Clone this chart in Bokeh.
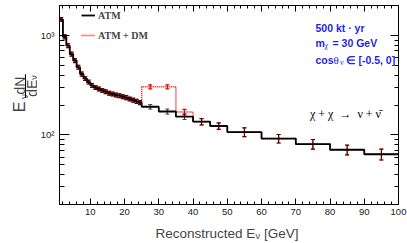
import math
from bokeh.plotting import figure
from bokeh.layouts import row, column
from bokeh.models import (ColumnDataSource, Whisker, TeeHead, Label, Legend, LegendItem,
                          LinearAxis, SingleIntervalTicker, FixedTicker,
                          CustomJSTickFormatter, Range1d, BoxAnnotation)
from bokeh.embed import file_html
from bokeh.resources import INLINE

# ---------------- data ----------------
bin_edges = [1, 2, 3, 4, 5, 6, 7, 8, 9, 10, 11, 12, 13, 14, 15, 16, 17, 18, 19, 20,
             21, 22, 23, 24, 25, 30, 35, 40, 45, 50, 60, 70, 80, 90, 100]
atm = [1450, 970, 790, 650, 560, 480, 410, 370, 340, 315, 300, 290, 280, 272, 263,
       258, 252, 248, 242, 237, 230, 224, 218, 212,
       192, 172, 153, 136, 123, 107, 92, 81, 71, 64]
atm_err = [60, 45, 36, 30, 26, 22, 19, 17, 15, 14, 13, 13, 12, 12, 12,
           11, 11, 11, 11, 11, 10, 10, 10, 10,
           10, 10, 10, 10, 9, 11, 9, 9, 8, 8]
atm_dm = [1450, 970, 790, 650, 560, 480, 410, 370, 340, 315, 300, 290, 280, 272, 263,
          258, 252, 248, 242, 237, 230, 224, 218, 212,
          305, 305, 170, 136, 123, 107, 92, 81, 71, 64]
atm_dm_err = [60, 45, 36, 30, 26, 22, 19, 17, 15, 14, 13, 13, 12, 12, 12,
              11, 11, 11, 11, 11, 10, 10, 10, 10,
              14, 14, 11, 10, 9, 11, 9, 9, 8, 8]
series_labels = ["ATM", "ATM + DM"]
y_major = [100, 1000]
y_minor = [20, 30, 40, 50, 60, 70, 80, 90, 200, 300, 400, 500, 600, 700, 800, 900, 2000]
y_tick_labels = {100: "10\u00b2", 1000: "10\u00b3"}

# ---------------- layout geometry (page pixels) ----------------
YW = 37          # width of the y-title strip
MH = 220         # height of the main figure
FL, FR, FT, FB = 56, 398, 5, 204   # frame edges in page pixels
W, H = 407, 243

p = figure(width=W - YW, height=MH, x_range=Range1d(1, 100), y_range=Range1d(20, 2000),
           y_axis_type="log", output_backend="svg", toolbar_location=None,
           min_border_left=FL - YW, min_border_right=W - FR, min_border_top=FT,
           min_border_bottom=MH - FB)
p.grid.visible = False
p.outline_line_color = "black"
p.outline_line_width = 1
p.background_fill_color = "white"
p.border_fill_color = "white"

centers = [(bin_edges[i] + bin_edges[i + 1]) / 2 for i in range(len(atm))]

# histograms (red first, black on top)
p.step(x=bin_edges, y=atm_dm + [atm_dm[-1]], mode="after", line_color="#ff0000",
       line_width=1.5, line_dash="1 1")
p.step(x=bin_edges, y=atm + [atm[-1]], mode="after", line_color="black", line_width=1.8)

src_dm = ColumnDataSource(dict(x=centers,
                               lo=[v - e for v, e in zip(atm_dm, atm_dm_err)],
                               hi=[v + e for v, e in zip(atm_dm, atm_dm_err)]))
src_atm = ColumnDataSource(dict(x=centers,
                                lo=[v - e for v, e in zip(atm, atm_err)],
                                hi=[v + e for v, e in zip(atm, atm_err)]))
w_dm = Whisker(source=src_dm, base="x", lower="lo", upper="hi", dimension="height",
               line_color="#e00000", line_width=1.2,
               upper_head=TeeHead(size=4, line_color="#e00000", line_width=1.2),
               lower_head=TeeHead(size=4, line_color="#e00000", line_width=1.2))
w_atm = Whisker(source=src_atm, base="x", lower="lo", upper="hi", dimension="height",
                line_color="#2a0a0a", line_width=1, line_alpha=0.8,
                upper_head=TeeHead(size=4, line_color="#2a0a0a", line_alpha=0.8),
                lower_head=TeeHead(size=4, line_color="#2a0a0a", line_alpha=0.8))
p.add_layout(w_dm)
p.add_layout(w_atm)

# ---------------- axes ----------------
xa = p.xaxis[0]
xa.ticker = SingleIntervalTicker(interval=10, num_minor_ticks=5)
xa.major_tick_in, xa.major_tick_out = 6, 0
xa.minor_tick_in, xa.minor_tick_out = 3, 0
xa.major_label_text_font = "Liberation Sans"
xa.major_label_text_font_size = "9.5px"
xa.major_label_text_color = "#222222"
xa.major_label_standoff = 4
xa.axis_line_color = "black"

ya = p.yaxis[0]
ya.ticker = FixedTicker(ticks=y_major, minor_ticks=y_minor)
ya.major_label_overrides = y_tick_labels
ya.major_tick_in, ya.major_tick_out = 10, 0
ya.minor_tick_in, ya.minor_tick_out = 5, 0
ya.major_label_text_font = "Liberation Sans"
ya.major_label_text_font_size = "9.5px"
ya.major_label_text_color = "#222222"
ya.major_label_standoff = 5
ya.axis_line_color = "black"

empty = CustomJSTickFormatter(code="return ''")
top = LinearAxis(ticker=SingleIntervalTicker(interval=10, num_minor_ticks=5), formatter=empty,
                 major_tick_in=6, major_tick_out=0, minor_tick_in=3, minor_tick_out=0,
                 major_label_standoff=0, major_label_text_font_size="1px")
right = LinearAxis(ticker=FixedTicker(ticks=y_major, minor_ticks=y_minor), formatter=empty,
                   major_tick_in=8, major_tick_out=0, minor_tick_in=4, minor_tick_out=0,
                   major_label_standoff=0, major_label_text_font_size="1px")
p.add_layout(top, "above")
p.add_layout(right, "right")


def lab(text, px, py, size, font="Liberation Sans", style="normal", color="black"):
    """label placed by page pixel position, inside the main frame"""
    p.add_layout(Label(x=px - FL, y=FB - py, x_units="screen", y_units="screen", text=text,
                       text_font=font, text_font_size=f"{size}px", text_font_style=style,
                       text_color=color, text_align="left", text_baseline="alphabetic"))


# blue annotation
blue = "#1f1fe6"
lab("500 kt \u00b7 yr", 312, 27, 10.5, style="bold", color=blue)
lab("m", 312, 42.5, 10.5, style="bold", color=blue)
lab("\u03c7", 321, 45, 8, font="Liberation Serif", color=blue)
lab("= 30 GeV", 329, 42.5, 10.5, style="bold", color=blue)
lab("cos", 312, 59, 10.5, style="bold", color=blue)
lab("\u03b8", 330, 59, 11, font="Liberation Serif", color=blue)
lab("\u03bd", 336.5, 61.5, 8, font="Liberation Serif", color=blue)
lab("\u2208 [-0.5, 0]", 342, 59, 10.5, style="bold", color=blue)

# reaction
nb = "\u00a0"
lab(f"\u03c7{nb}+{nb}\u03c7{nb}{nb}\u2192{nb}{nb}\u03bd{nb}+{nb}\u03bd\u0304", 306.5, 113, 12,
    font="Liberation Serif")

# legend
r_atm = p.line(x=[1], y=[1], line_color="black", line_width=1.8)
r_dm = p.line(x=[1], y=[1], line_color="#ff0000", line_width=1.5, line_dash="1 1")
leg = Legend(items=[LegendItem(label=series_labels[0], renderers=[r_atm]),
                    LegendItem(label=series_labels[1], renderers=[r_dm])],
             location=(22, FB - 43), padding=0, margin=0, spacing=4,
             glyph_width=14, glyph_height=16, label_height=16, label_standoff=3,
             label_text_font="Liberation Serif", label_text_font_style="bold",
             label_text_font_size="10px", label_text_baseline="middle",
             border_line_color=None, background_fill_alpha=0)
p.add_layout(leg)

# ---------------- y-title strip ----------------
yf = figure(width=YW, height=MH, x_range=Range1d(0, YW), y_range=Range1d(0, MH),
            output_backend="svg", toolbar_location=None, min_border=0,
            x_axis_location=None, y_axis_location=None)
yf.grid.visible = False
yf.outline_line_color = None


def ylab(text, cx, py, size):
    """rotated label: cx = page x of the text's middle line, py = page y where it starts"""
    yf.add_layout(Label(x=cx, y=MH - py, text=text, text_font="Liberation Sans",
                        text_font_size=f"{size}px", text_align="left",
                        text_baseline="middle", angle=math.pi / 2))


ylab("E", 18.5, 118, 16)
ylab("\u03bd", 24, 103.5, 10)
ylab("dN", 19, 98.5, 14)
ylab("dE", 31, 101, 14)
ylab("\u03bd", 33.5, 82, 9)
yf.add_layout(BoxAnnotation(left=24.5, right=25.5, bottom=MH - 102, top=MH - 76,
                            fill_color="black", fill_alpha=1, line_color=None))

# ---------------- x-title strip ----------------
XH = H - MH
xf = figure(width=W, height=XH, x_range=Range1d(0, W), y_range=Range1d(0, XH),
            output_backend="svg", toolbar_location=None, min_border=0,
            x_axis_location=None, y_axis_location=None)
xf.grid.visible = False
xf.outline_line_color = None


def xlab(text, px, py, size):
    xf.add_layout(Label(x=px, y=H - py, text=text, text_font="Liberation Sans",
                        text_font_size=f"{size}px", text_align="left",
                        text_baseline="alphabetic"))


xlab("Reconstructed E", 155, 233, 13.5)
xlab("\u03bd", 255, 235.5, 9)
xlab("[GeV]", 263.5, 233, 13.5)

layout = column(row(yf, p), xf)
open("out.html", "w").write(file_html(layout, INLINE))
